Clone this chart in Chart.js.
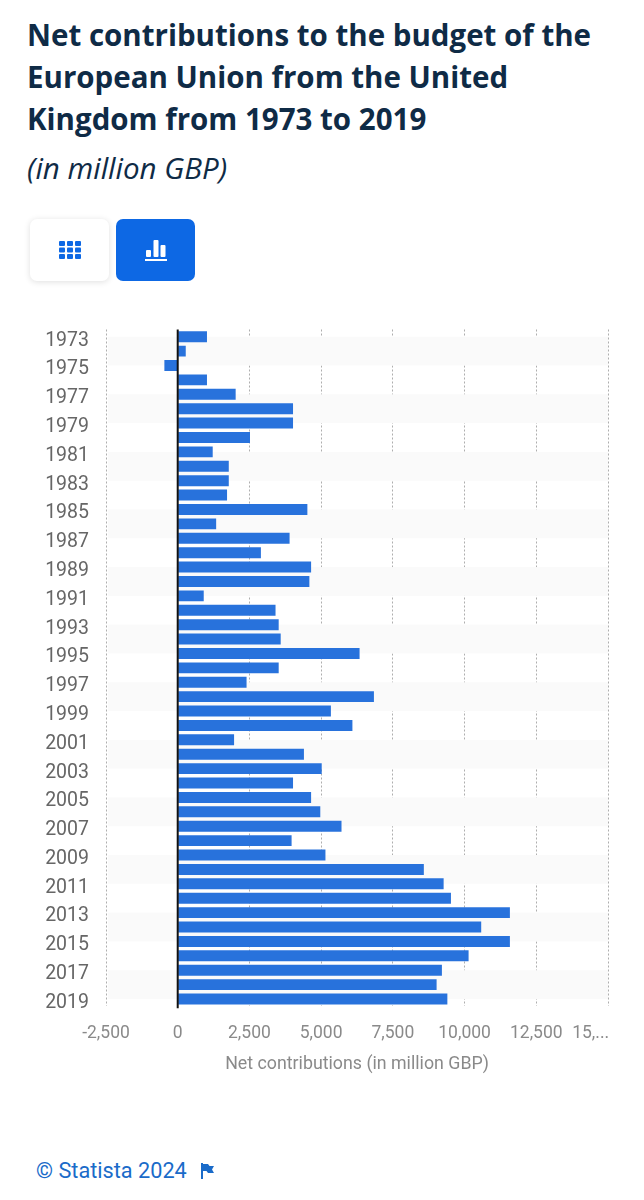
<!DOCTYPE html>
<html>
<head>
<meta charset="utf-8">
<title>Net contributions</title>
<script src="https://cdn.jsdelivr.net/npm/chart.js@4"></script>
<style>
  html, body { margin: 0; padding: 0; background: #fff; }
  body { position: relative; width: 644px; height: 1200px; overflow: hidden; }
  h1 { position: absolute; left: 27px; top: 14px; margin: 0; width: 600px; font: 700 29.5px/42px "Open Sans", sans-serif; color: #0f2b46; }
  h2 { position: absolute; left: 27px; top: 149px; margin: 0; font: italic 400 29.5px/38px "Open Sans", sans-serif; color: #0f2b46; }
  .btn { position: absolute; top: 219px; width: 79px; height: 62px; border-radius: 7px; display: flex; align-items: center; justify-content: center; box-sizing: border-box; }
  #b1 { left: 30px; background: #fff; box-shadow: 0 1px 6px rgba(0,0,0,.13); }
  #b2 { left: 116px; background: #0d68e4; }
  #wrap { position: absolute; left: 0; top: 320px; width: 644px; height: 760px; }
  #foot { position: absolute; left: 36px; top: 1158px; font: 400 21.7px/26px Roboto, sans-serif; color: #1a6bc9; }
  #flag { position: absolute; left: 201px; top: 1163px; }
</style>
</head>
<body>
<h1>Net contributions to the budget of the European Union from the United Kingdom from 1973 to 2019</h1>
<h2>(in million GBP)</h2>
<div class="btn" id="b1">
  <svg width="22" height="18" viewBox="0 0 22 18" fill="#0d68e4">
    <rect x="0" y="0" width="6" height="5" rx="1"/><rect x="8" y="0" width="6" height="5" rx="1"/><rect x="16" y="0" width="6" height="5" rx="1"/>
    <rect x="0" y="6.5" width="6" height="5" rx="1"/><rect x="8" y="6.5" width="6" height="5" rx="1"/><rect x="16" y="6.5" width="6" height="5" rx="1"/>
    <rect x="0" y="13" width="6" height="5" rx="1"/><rect x="8" y="13" width="6" height="5" rx="1"/><rect x="16" y="13" width="6" height="5" rx="1"/>
  </svg>
</div>
<div class="btn" id="b2">
  <svg width="22" height="22" viewBox="0 0 22 22" fill="#fff">
    <rect x="1" y="11" width="5" height="7" rx="1"/><rect x="8.5" y="1" width="5" height="17" rx="1"/><rect x="15.5" y="6" width="5" height="12" rx="1"/>
    <rect x="0" y="20" width="22" height="2"/>
  </svg>
</div>
<div id="wrap"><canvas id="myChart" width="644" height="760"></canvas></div>
<div id="foot">© Statista 2024</div>
<svg id="flag" width="14" height="17" viewBox="0 0 14 17" fill="#1a6bc9">
  <rect x="0" y="0" width="2" height="16"/><path d="M2 1h5l1.5 2H13l-2 3.5 2 3.5H7L5.5 8H2z"/>
</svg>
<script>
const years = ['1973','1974','1975','1976','1977','1978','1979','1980','1981','1982','1983','1984','1985','1986','1987','1988','1989','1990','1991','1992','1993','1994','1995','1996','1997','1998','1999','2000','2001','2002','2003','2004','2005','2006','2007','2008','2009','2010','2011','2012','2013','2014','2015','2016','2017','2018','2019'];
const contributions = [1020,280,-465,1020,2020,4020,4020,2520,1220,1780,1780,1720,4520,1340,3900,2900,4650,4590,907,3410,3520,3590,6340,3520,2400,6840,5340,6090,1965,4400,5020,4020,4650,4970,5710,3970,5150,8580,9270,9525,11580,10580,11580,10140,9210,9025,9400];
const xTickLabels = ['-2,500','0','2,500','5,000','7,500','10,000','12,500','15,...        '];

// alternating bands and the black zero line
const decorations = {
    id: 'decorations',
    beforeDatasetsDraw(chart) {
        const { ctx, chartArea, scales } = chart;
        ctx.save();
        ctx.fillStyle = '#fafafa';
        for (let i = 0; i + 2 < years.length; i += 4) {
            const top = scales.y.getPixelForValue(i);
            const bottom = scales.y.getPixelForValue(i + 2);
            ctx.fillRect(chartArea.left + 2, top, chartArea.right - chartArea.left - 2, bottom - top);
        }
        ctx.restore();
    },
    afterDatasetsDraw(chart) {
        const { ctx, chartArea, scales } = chart;
        const x = scales.x.getPixelForValue(0);
        ctx.save();
        ctx.strokeStyle = '#111';
        ctx.lineWidth = 2;
        ctx.beginPath();
        ctx.moveTo(x, chartArea.top);
        ctx.lineTo(x, chartArea.bottom + 2);
        ctx.stroke();
        ctx.restore();
    }
};

const ctx = document.getElementById('myChart').getContext('2d');
const myChart = new Chart(ctx, {
    type: 'bar',
    data: {
        labels: years,
        datasets: [{
            label: 'Net contributions (in million GBP)',
            data: contributions,
            backgroundColor: '#2872dc',
            borderWidth: 0,
            barPercentage: 0.76,
            categoryPercentage: 1
        }]
    },
    options: {
        indexAxis: 'y',
        responsive: false,
        animation: false,
        devicePixelRatio: 1,
        layout: { padding: { top: 9.5, right: 36, left: 0, bottom: 0 } },
        plugins: { legend: { display: false }, tooltip: { enabled: false } },
        scales: {
            x: {
                min: -2500,
                max: 15000,
                afterFit(scale) {
                    scale.height = 73.8;
                    scale.paddingLeft = 0;
                    scale.paddingRight = 0;
                },
                grid: {
                    drawTicks: false,
                    color: (c) => c.tick && c.tick.value === 0 ? 'rgba(0,0,0,0)' : '#aeaeae'
                },
                border: { display: false, dash: [2, 2] },
                ticks: {
                    stepSize: 2500,
                    autoSkip: false,
                    maxRotation: 0,
                    padding: 17,
                    color: '#8a8a8a',
                    font: { family: 'Roboto', size: 17.5 },
                    callback: (value, i) => xTickLabels[i]
                },
                title: {
                    display: true,
                    text: 'Net contributions (in million GBP)',
                    color: '#8a8a8a',
                    font: { family: 'Roboto', size: 17.8 },
                    padding: { top: 9, bottom: 5 }
                }
            },
            y: {
                afterFit(scale) {
                    scale.width = 106;
                    scale.paddingTop = 0;
                    scale.paddingBottom = 0;
                },
                grid: { display: false },
                border: { display: false },
                ticks: {
                    autoSkip: false,
                    padding: 9,
                    labelOffset: 4,
                    color: '#666',
                    font: { family: 'Roboto', size: 19.5 },
                    callback: (value, i) => i % 2 === 0 ? years[i] : ''
                }
            }
        }
    },
    plugins: [decorations]
});
</script>
</body>
</html>
